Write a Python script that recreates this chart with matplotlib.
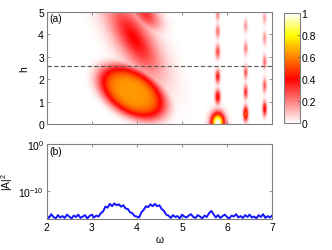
import numpy as np
import matplotlib
matplotlib.use('Agg')
import matplotlib.pyplot as plt
from matplotlib.colors import LinearSegmentedColormap

plt.rcParams['font.family'] = ['Liberation Sans', 'DejaVu Sans']
plt.rcParams['font.size'] = 7.5

# --- panel (a): broad lobes (cx, ch, semi-axis a [px], semi-axis b [px], angle [deg], amp, power)
lobe_cx  = [3.88, 3.92, 4.18]
lobe_ch  = [1.40, 3.80, 4.85]
lobe_a   = [37.0, 42.0, 18.0]
lobe_b   = [22.0, 16.0, 10.0]
lobe_ang = [-32.0, -58.0, -45.0]
lobe_amp = [0.64, 0.40, 0.32]
lobe_pow = [2.2, 0.9, 1.0]

# --- panel (a): narrow spots on vertical lines (omega, h, amp, sigma_omega, sigma_h)
spot_w   = [5.78, 5.78, 5.78, 5.78, 5.78, 5.78,
            6.40, 6.40, 6.40, 6.40, 6.40,
            6.82, 6.82, 6.82, 6.82, 6.82]
spot_h   = [0.05, 1.20, 2.10, 3.20, 4.10, 4.85,
            0.45, 1.42, 2.30, 3.35, 4.35,
            0.67, 1.70, 2.75, 3.80, 4.70]
spot_amp = [1.05, 0.45, 0.38, 0.30, 0.24, 0.20,
            0.58, 0.35, 0.28, 0.22, 0.18,
            0.45, 0.28, 0.24, 0.18, 0.15]
spot_sw  = [0.10, 0.04, 0.035, 0.035, 0.03, 0.03,
            0.035, 0.03, 0.028, 0.028, 0.028,
            0.03, 0.028, 0.028, 0.028, 0.028]
spot_sh  = [0.30, 0.22, 0.21, 0.21, 0.20, 0.19,
            0.22, 0.21, 0.21, 0.20, 0.19,
            0.22, 0.21, 0.21, 0.20, 0.19]

h_cut = 2.57

# --- panel (b): log10 |A|^2 sampled every 0.05 from omega = 2 to 7
omega_b = np.arange(101) * 0.05 + 2.0
logA = [-15.3, -15.8, -15.0, -15.6, -15.9, -15.2, -15.7, -15.4, -15.8, -15.1,
        -15.5, -15.9, -15.3, -15.6, -15.1, -15.8, -15.5, -15.2, -15.9, -15.4,
        -15.1, -15.7, -15.3, -15.5, -14.8, -14.4, -13.4, -13.6, -12.8, -13.3,
        -12.7, -13.1, -12.9, -13.4, -13.1, -13.8, -13.9, -14.6, -14.8, -15.4,
        -15.5, -15.7, -14.6, -14.1, -13.3, -13.5, -12.9, -13.3, -12.8, -13.3,
        -13.1, -13.9, -14.3, -15.1, -15.3, -15.8, -15.2, -15.6, -15.4, -15.9,
        -15.1, -15.5, -15.7, -15.3, -15.0, -15.6, -15.8, -15.2, -15.5, -15.9,
        -15.3, -15.6, -14.8, -14.3, -15.0, -15.7, -15.2, -15.8, -15.4, -15.1,
        -15.6, -15.9, -15.3, -15.5, -15.0, -15.7, -15.4, -15.8, -15.2, -15.6,
        -15.1, -15.7, -15.5, -15.9, -15.2, -15.6, -15.0, -15.8, -15.4, -15.7,
        -15.3]

# build the field from the lobes and spots
W, H = np.meshgrid(np.linspace(2, 7, 500), np.linspace(0, 5, 400))
Z = np.zeros_like(W)
for cx, ch, a, b, ang, amp, p in zip(lobe_cx, lobe_ch, lobe_a, lobe_b, lobe_ang, lobe_amp, lobe_pow):
    X = (W - cx) * 45.1
    Y = (H - ch) * 22.5
    t = np.deg2rad(ang)
    u = X * np.cos(t) + Y * np.sin(t)
    v = -X * np.sin(t) + Y * np.cos(t)
    r2 = (u / a) ** 2 + (v / b) ** 2
    Z = np.maximum(Z, amp * np.exp(-r2 ** p))
for w0, h0, amp, sw, sh in zip(spot_w, spot_h, spot_amp, spot_sw, spot_sh):
    Z = np.maximum(Z, amp * np.exp(-((W - w0) / sw) ** 2 / 2 - ((H - h0) / sh) ** 2 / 2))

cmap = LinearSegmentedColormap.from_list('whr', [(0, 'white'), (0.4, (1, 0, 0)),
                                                 (0.6, (1, 0.5, 0)), (0.8, (1, 1, 0)),
                                                 (1, 'white')])

fig = plt.figure(figsize=(3.32, 2.51), dpi=100)
ax1 = fig.add_axes([0.1407, 0.502, 0.679, 0.447])
cax = fig.add_axes([0.855, 0.505, 0.048, 0.438])
ax2 = fig.add_axes([0.1407, 0.124, 0.679, 0.299])

im = ax1.imshow(Z, extent=[2, 7, 0, 5], origin='lower', aspect='auto',
                cmap=cmap, vmin=0, vmax=1, interpolation='bilinear')
ax1.axhline(h_cut, color='0.35', ls='--', lw=0.8, dashes=(4, 2))
ax1.set_xlim(2, 7)
ax1.set_ylim(0, 5)
ax1.set_xticks([2, 3, 4, 5, 6, 7])
ax1.set_xticklabels([])
ax1.set_yticks([0, 1, 2, 3, 4, 5])
ax1.set_ylabel('h', labelpad=6)
ax1.text(2.05, 4.93, '(a)', va='top', ha='left')

cb = fig.colorbar(im, cax=cax, ticks=[0, 0.2, 0.4, 0.6, 0.8, 1])
cb.ax.set_yticklabels(['0', '0.2', '0.4', '0.6', '0.8', '1'])
cb.outline.set_edgecolor('0.5')
cb.ax.tick_params(direction='in', length=2, width=0.5, color='0.4', pad=1)

ax2.semilogy(omega_b, 10.0 ** np.array(logA), color='#1414ff', lw=1.4)
ax2.set_xlim(2, 7)
ax2.set_ylim(1e-16, 1e0)
ax2.set_xticks([2, 3, 4, 5, 6, 7])
ax2.set_yticks([1e0, 1e-10])
ax2.minorticks_off()
ax2.set_xlabel('ω', labelpad=2)
ax2.set_ylabel(r'$\mathregular{|A|^2}$', labelpad=2)
ax2.text(2.05, 3e-1, '(b)', va='top', ha='left')

for ax in (ax1, ax2):
    for s in ax.spines.values():
        s.set_edgecolor('0.5')
        s.set_linewidth(0.8)
    ax.tick_params(direction='in', length=2.5, width=0.5, color='0.4',
                   top=True, right=True, pad=2)

fig.savefig('out.png', dpi=100)
